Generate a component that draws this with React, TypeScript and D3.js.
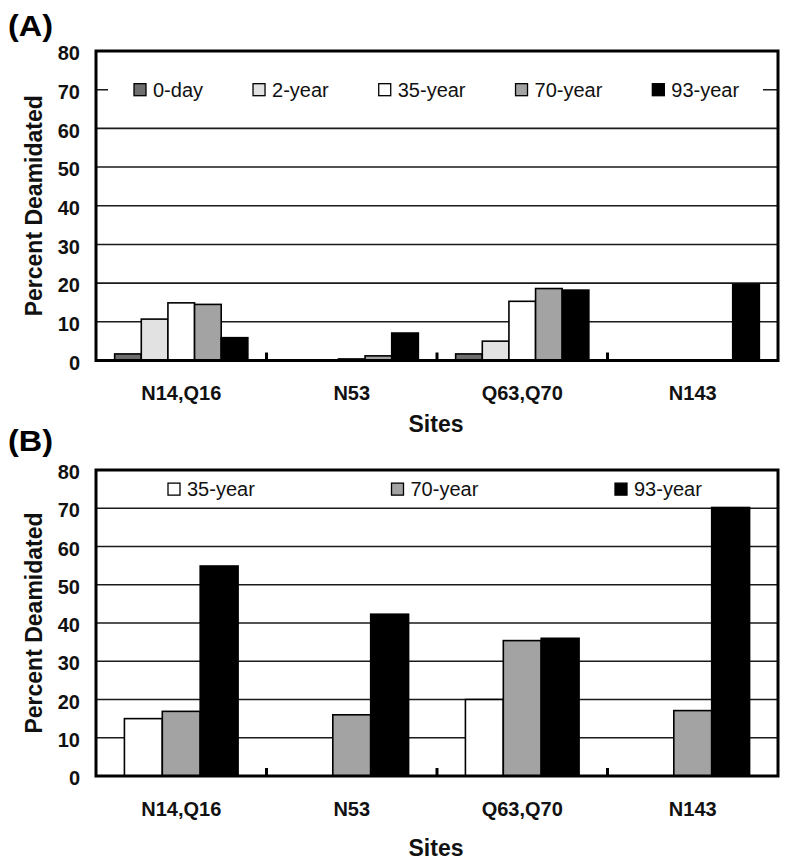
import React from "react";
import * as d3 from "d3";

const categories = ["N14,Q16", "N53", "Q63,Q70", "N143"];
const yTicks = [0, 10, 20, 30, 40, 50, 60, 70, 80];

const seriesA = ["0-day", "2-year", "35-year", "70-year", "93-year"];
const a0day = [1.7, 0, 1.7, 0];
const a2year = [10.7, 0, 5.0, 0];
const a35year = [14.9, 0.4, 15.3, 0];
const a70year = [14.5, 1.2, 18.6, 0];
const a93year = [5.9, 7.1, 18.2, 19.7];
const valuesA = [a0day, a2year, a35year, a70year, a93year];

const seriesB = ["35-year", "70-year", "93-year"];
const b35year = [15.0, 0, 20.0, 0];
const b70year = [16.9, 16.0, 35.4, 17.1];
const b93year = [54.9, 42.3, 36.0, 70.2];
const valuesB = [b35year, b70year, b93year];

const COLORS: Record<string, string> = {
  "0-day": "#6e6e6e",
  "2-year": "#e2e2e2",
  "35-year": "#ffffff",
  "70-year": "#a3a3a3",
  "93-year": "#000000",
};

const FONT = "'Liberation Sans', Arial, Helvetica, sans-serif";

function measure(text: string, size: number, weight = "normal") {
  if (typeof document === "undefined") return text.length * size * 0.55;
  const c = document.createElement("canvas").getContext("2d");
  if (!c) return text.length * size * 0.55;
  c.font = `${weight} ${size}px ${FONT}`;
  return c.measureText(text).width;
}

type PanelProps = {
  label: string;
  labelY: number;
  top: number;
  bottom: number;
  series: string[];
  values: number[][];
  padOuter: number;
  legend: "A" | "B";
  catLabelY: number;
  sitesY: number;
};

const LEFT = 96;
const RIGHT = 778;

function Panel(p: PanelProps) {
  const y = d3.scaleLinear().domain([0, 80]).range([p.bottom, p.top]);
  const x0 = d3.scaleBand<string>().domain(categories).range([LEFT, RIGHT]).padding(0);
  const x1 = d3
    .scaleBand<string>()
    .domain(p.series)
    .range([0, x0.bandwidth()])
    .paddingInner(0)
    .paddingOuter(p.padOuter);

  const legendY = p.legend === "A" ? y(70) : (y(80) + y(70)) / 2;
  let legendItems: { name: string; x: number }[] = [];
  if (p.legend === "A") {
    let cx = 134;
    legendItems = p.series.map((s) => {
      const it = { name: s, x: cx };
      cx += 13 + 6 + measure(s, 20) + 50;
      return it;
    });
  } else {
    const step = 223.5;
    legendItems = p.series.map((s, i) => ({ name: s, x: 168 + i * step }));
  }

  const midY = (p.top + p.bottom) / 2;
  const midX = (LEFT + RIGHT) / 2;

  return (
    <g>
      <text x={8} y={p.labelY} fontFamily={FONT} fontWeight="bold" fontSize={30} textLength={45} lengthAdjust="spacingAndGlyphs">
        {p.label}
      </text>
      {yTicks.filter((t) => t > 0 && t < 80).map((t) => (
        <line key={t} x1={LEFT} x2={RIGHT} y1={y(t)} y2={y(t)} stroke="#1a1a1a" strokeWidth={1.6} />
      ))}
      {p.legend === "A" && (
        <rect x={108} y={legendY - 15} width={655} height={30} fill="#ffffff" />
      )}
      {p.series.map((s, si) =>
        categories.map((c, ci) => {
          const v = p.values[si][ci];
          if (v <= 0) return null;
          const bx = (x0(c) as number) + (x1(s) as number);
          return (
            <rect
              key={s + c}
              x={bx}
              y={y(v)}
              width={x1.bandwidth()}
              height={p.bottom - y(v)}
              fill={COLORS[s]}
              stroke="#000"
              strokeWidth={1.6}
            />
          );
        })
      )}
      {categories.slice(1).map((c) => (
        <line key={c} x1={x0(c) as number} x2={x0(c) as number} y1={p.bottom} y2={p.bottom - 8} stroke="#000" strokeWidth={3} />
      ))}
      <rect x={LEFT} y={p.top} width={RIGHT - LEFT} height={p.bottom - p.top} fill="none" stroke="#000" strokeWidth={3} />
      {legendItems.map((it) => (
        <g key={it.name}>
          <rect x={it.x} y={legendY - 6} width={12} height={12} fill={COLORS[it.name]} stroke="#000" strokeWidth={1.3} />
          <text x={it.x + 19} y={legendY} dy="0.36em" fontFamily={FONT} fontSize={20} fill="#111">
            {it.name}
          </text>
        </g>
      ))}
      {yTicks.map((t) => (
        <text key={t} x={80} y={y(t) + 2} dy="0.36em" textAnchor="end" fontFamily={FONT} fontWeight="bold" fontSize={20} fill="#111">
          {t}
        </text>
      ))}
      {categories.map((c) => (
        <text key={c} x={(x0(c) as number) + x0.bandwidth() / 2} y={p.catLabelY} textAnchor="middle" fontFamily={FONT} fontWeight="bold" fontSize={20} fill="#111">
          {c}
        </text>
      ))}
      <text x={midX - 1} y={p.sitesY} textAnchor="middle" fontFamily={FONT} fontWeight="bold" fontSize={23} fill="#111">
        Sites
      </text>
      <text
        transform={`translate(42,${midY}) rotate(-90)`}
        textAnchor="middle"
        fontFamily={FONT}
        fontWeight="bold"
        fontSize={23}
        fill="#111"
      >
        Percent Deamidated
      </text>
    </g>
  );
}

export default function App() {
  return (
    <svg width={792} height={866} style={{ position: "absolute", left: 0, top: 0, background: "#fff" }}>
      <rect x={0} y={0} width={792} height={866} fill="#fff" />
      <Panel
        label="(A)"
        labelY={36}
        top={51}
        bottom={360.5}
        series={seriesA}
        values={valuesA}
        padOuter={0.7}
        legend="A"
        catLabelY={400}
        sitesY={432}
      />
      <Panel
        label="(B)"
        labelY={451}
        top={470}
        bottom={776}
        series={seriesB}
        values={valuesB}
        padOuter={0.75}
        legend="B"
        catLabelY={816}
        sitesY={856}
      />
    </svg>
  );
}
